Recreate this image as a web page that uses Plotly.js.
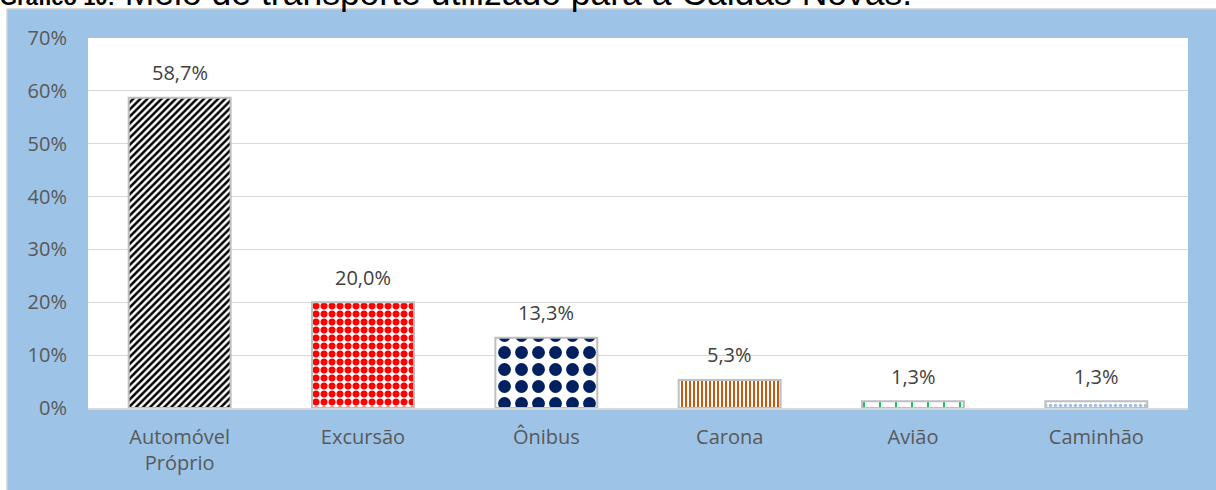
<!DOCTYPE html>
<html>
<head>
<meta charset="utf-8">
<script src="https://cdn.plot.ly/plotly-3.0.1.min.js"></script>
<style>html,body{margin:0;padding:0;background:#fff;}#chart{width:1216px;height:490px;}</style>
</head>
<body>
<div id="chart"></div>
<script>
const categories = ['Automóvel<br>Próprio', 'Excursão', 'Ônibus', 'Carona', 'Avião', 'Caminhão'];
const values = [58.7, 20.0, 13.3, 5.3, 1.3, 1.3];
const tickValues = [0, 10, 20, 30, 40, 50, 60, 70];
const tickLabels = ['0%', '10%', '20%', '30%', '40%', '50%', '60%', '70%'];
const titleBold = 'Gráfico 10:';
const titleRest = 'Meio de transporte utilizado para a Caldas Novas.';

const patternShapes = ['/', '.', '.', '|', '+', '.'];
const patternColors = ['#000000', '#FF0000', '#002060', '#C55A11', '#00B050', '#9DC3E6'];
const patternSizes = [5, 8, 17, 4, 16, 5];
const patternSolidity = [0.5, 0.6, 0.45, 0.5, 0.2, 0.4];

const W = 1216, H = 490;
const m = {l: 88, r: 28, t: 38, b: 82};
const pw = W - m.l - m.r, ph = H - m.t - m.b;
const px = x => (x - m.l) / pw;
const py = y => (H - m.b - y) / ph;

const fmt = v => v.toFixed(1).replace('.', ',') + '%';

const trace = {
  type: 'bar',
  x: categories,
  y: values,
  marker: {
    color: '#ffffff',
    line: {color: '#BFBFBF', width: 2},
    pattern: {
      shape: patternShapes,
      fgcolor: patternColors,
      bgcolor: '#ffffff',
      size: patternSizes,
      solidity: patternSolidity,
      fillmode: 'replace'
    }
  },
  hoverinfo: 'skip'
};

const annotations = categories.map((c, i) => ({
  x: c, y: values[i], xref: 'x', yref: 'y',
  text: fmt(values[i]), showarrow: false,
  yanchor: 'middle', yshift: 25,
  font: {family: 'Open Sans', size: 20, color: '#404040'}
}));
annotations.push({
  xref: 'paper', yref: 'paper', x: px(-2), y: py(15),
  xanchor: 'left', yanchor: 'bottom',
  text: '<span style="font-size:22px"><b>' + titleBold + '</b></span> ' + titleRest,
  showarrow: false,
  font: {family: 'Liberation Sans', size: 35.5, color: '#000000'}
});

const shapes = [
  {type: 'rect', xref: 'paper', yref: 'paper', x0: px(-5), x1: px(W + 5), y0: py(9), y1: py(-50), fillcolor: '#ffffff', line: {width: 0}, layer: 'above'},
  {type: 'rect', xref: 'paper', yref: 'paper', x0: px(-5), x1: px(7), y0: py(H + 5), y1: py(-50), fillcolor: '#ffffff', line: {width: 0}, layer: 'above'},
  {type: 'line', xref: 'paper', yref: 'paper', x0: px(7), x1: px(W + 5), y0: py(9), y1: py(9), line: {color: '#D0D0D0', width: 1.5}, layer: 'above'},
  {type: 'line', xref: 'paper', yref: 'paper', x0: px(7), x1: px(7), y0: py(9), y1: py(H + 5), line: {color: '#D0D0D0', width: 1.5}, layer: 'above'}
];

const layout = {
  width: W, height: H,
  margin: m,
  paper_bgcolor: '#9DC3E6',
  plot_bgcolor: '#ffffff',
  separators: ',.',
  showlegend: false,
  bargap: 0.444,
  font: {family: 'Open Sans', size: 20, color: '#595959'},
  xaxis: {
    showgrid: false, zeroline: false,
    showline: true, linecolor: '#D9D9D9', linewidth: 2,
    ticks: '', ticklabelstandoff: 10,
    tickfont: {family: 'Open Sans', size: 20, color: '#595959'},
    fixedrange: true
  },
  yaxis: {
    range: [0, 70],
    tickvals: tickValues, ticktext: tickLabels,
    showgrid: true, gridcolor: '#D9D9D9', gridwidth: 1,
    zeroline: false, showline: false,
    ticks: '', ticklabelstandoff: 20,
    tickfont: {family: 'Open Sans', size: 20, color: '#595959'},
    fixedrange: true
  },
  annotations: annotations,
  shapes: shapes
};

Plotly.newPlot('chart', [trace], layout, {displayModeBar: false, staticPlot: true});
</script>
</body>
</html>
